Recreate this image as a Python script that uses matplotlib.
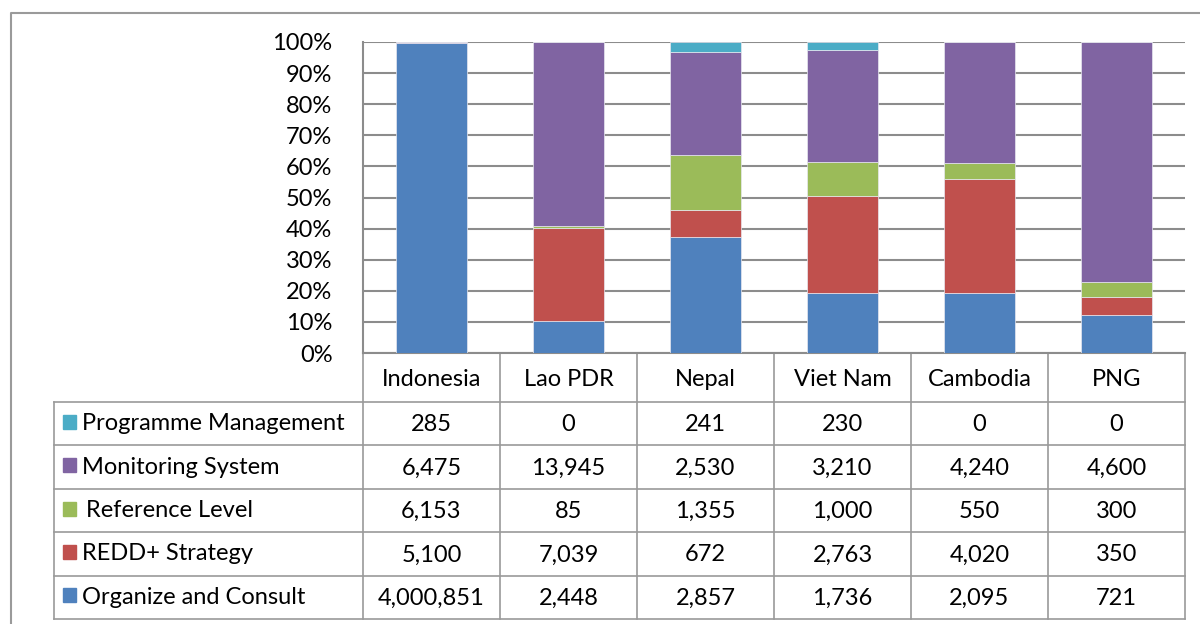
import numpy as np
import matplotlib.pyplot as plt
from matplotlib.patches import Rectangle

plt.rcParams['font.family'] = ['Lato', 'DejaVu Sans']

# data
countries = ["Indonesia", "Lao PDR", "Nepal", "Viet Nam", "Cambodia", "PNG"]
organize = [4000851, 2448, 2857, 1736, 2095, 721]
redd = [5100, 7039, 672, 2763, 4020, 350]
reference = [6153, 85, 1355, 1000, 550, 300]
monitoring = [6475, 13945, 2530, 3210, 4240, 4600]
programme = [285, 0, 241, 230, 0, 0]

series_names = ["Organize and Consult", "REDD+ Strategy", "Reference Level",
                "Monitoring System", "Programme Management"]
series_vals = [organize, redd, reference, monitoring, programme]
colors = ["#4F81BD", "#C0504D", "#9BBB59", "#8064A2", "#4BACC6"]

W, H = 1200, 624
FS = 17
fig = plt.figure(figsize=(12, 6.24), dpi=100)

# plot area in pixels
px0, px1, py_top, py_bot = 363, 1185, 42, 353
ax = fig.add_axes([px0 / W, 1 - py_bot / H, (px1 - px0) / W, (py_bot - py_top) / H])

vals = np.array(series_vals, dtype=float)
pct = vals / vals.sum(axis=0) * 100
x = np.arange(len(countries))
bottom = np.zeros(len(countries))
for i in range(len(series_names)):
    ax.bar(x, pct[i], bottom=bottom, width=0.52, color=colors[i],
           edgecolor="#e8e8f0", linewidth=0.5, zorder=3)
    bottom += pct[i]

ax.set_xlim(-0.5, len(countries) - 0.5)
ax.set_ylim(0, 100)
ax.set_yticks(np.arange(0, 101, 10))
ax.set_yticklabels([f"{v}%" for v in range(0, 101, 10)], fontsize=FS)
ax.tick_params(axis="y", length=0, pad=22)
ax.set_xticks([])
ax.grid(axis="y", color="#8c8c8c", linewidth=1.5, zorder=0)
for s in ["top", "right"]:
    ax.spines[s].set_visible(False)
ax.spines["left"].set_color("#8c8c8c")
ax.spines["left"].set_linewidth(1.5)
ax.spines["bottom"].set_color("#8c8c8c")
ax.spines["bottom"].set_linewidth(1.5)

# table and frame, drawn in pixel space
tax = fig.add_axes([0, 0, 1, 1], zorder=-1)
tax.set_xlim(0, W)
tax.set_ylim(H, 0)
tax.axis("off")

gc = "#9a9a9a"
# outer frame
tax.plot([11, 11, W], [H, 13, 13], color=gc, linewidth=1.5)

col_w = (px1 - px0) / len(countries)
head_bot = 402
row_h = 43.4
tab_left = 54
n_rows = len(series_names)
tab_bot = head_bot + row_h * n_rows

# vertical lines
for j in range(len(countries) + 1):
    xx = px0 + j * col_w
    tax.plot([xx, xx], [py_bot, tab_bot], color=gc, linewidth=1.2)
tax.plot([tab_left, tab_left], [head_bot, tab_bot], color=gc, linewidth=1.2)
# horizontal lines
for r in range(n_rows + 1):
    yy = head_bot + r * row_h
    tax.plot([tab_left, px1], [yy, yy], color=gc, linewidth=1.2)

for j, c in enumerate(countries):
    tax.text(px0 + (j + 0.5) * col_w, (py_bot + head_bot) / 2 + 2, c,
             ha="center", va="center", fontsize=FS)

order = list(range(n_rows))[::-1]
for r, i in enumerate(order):
    yc = head_bot + (r + 0.5) * row_h
    tax.add_patch(Rectangle((63, yc - 9), 13, 14, color=colors[i]))
    lx = 86 if series_names[i] == "Reference Level" else 82
    tax.text(lx, yc, series_names[i], ha="left", va="center", fontsize=FS)
    for j in range(len(countries)):
        tax.text(px0 + (j + 0.5) * col_w, yc + 1, f"{series_vals[i][j]:,}",
                 ha="center", va="center", fontsize=FS)

fig.savefig("out.png", dpi=100)
